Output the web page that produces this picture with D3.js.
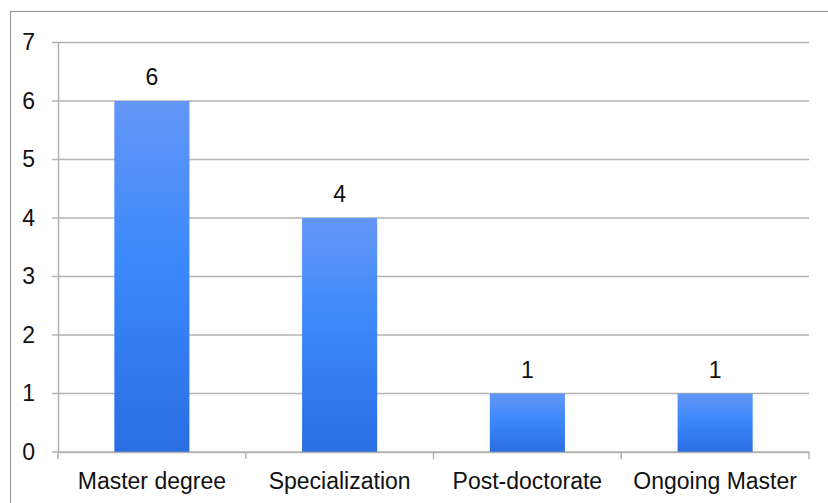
<!DOCTYPE html>
<html>
<head>
<meta charset="utf-8">
<script src="https://cdn.jsdelivr.net/npm/d3@7"></script>
<style>
  html, body { margin: 0; padding: 0; background: #fff; }
  svg { display: block; font-family: "Liberation Sans", Arial, Helvetica, sans-serif; }
</style>
</head>
<body>
<svg id="chart" width="828" height="503"></svg>
<script>
// Degrees held by the group
const categories = ["Master degree", "Specialization", "Post-doctorate", "Ongoing Master"];
const counts = [6, 4, 1, 1];
const yTicks = [0, 1, 2, 3, 4, 5, 6, 7];

const svg = d3.select("#chart");
const W = 828, H = 503;
const margin = { left: 58, right: 19, top: 42.5, bottom: 51 };
const FONT = 23;

// outer frame
svg.append("rect")
  .attr("x", 10.5).attr("y", 11.5)
  .attr("width", W).attr("height", H)
  .attr("fill", "none").attr("stroke", "#9a9a9a").attr("stroke-width", 1.2);

const x = d3.scaleBand()
  .domain(categories)
  .range([margin.left, W - margin.right])
  .paddingInner(0).paddingOuter(0);

const y = d3.scaleLinear()
  .domain([0, 7])
  .range([H - margin.bottom, margin.top]);

// bar gradient
const defs = svg.append("defs");
const grad = defs.append("linearGradient")
  .attr("id", "barFill").attr("x1", 0).attr("y1", 0).attr("x2", 0).attr("y2", 1);
grad.append("stop").attr("offset", "0%").attr("stop-color", "#6396f6");
grad.append("stop").attr("offset", "45%").attr("stop-color", "#3c89fb");
grad.append("stop").attr("offset", "100%").attr("stop-color", "#2a6ee2");

// horizontal gridlines
svg.append("g")
  .selectAll("line")
  .data(yTicks)
  .join("line")
  .attr("x1", margin.left - 6).attr("x2", W - margin.right)
  .attr("y1", d => y(d)).attr("y2", d => y(d))
  .attr("stroke", "#b3b3b3").attr("stroke-width", 1.5);

// y axis
const yAxis = svg.append("g")
  .attr("transform", `translate(${margin.left},0)`)
  .call(d3.axisLeft(y).tickValues(yTicks).tickSize(0).tickPadding(23).tickFormat(d3.format("d")));
yAxis.select(".domain").attr("stroke", "#b3b3b3").attr("stroke-width", 1.5);
yAxis.selectAll("text")
  .attr("font-size", FONT).attr("fill", "#111")
  .attr("font-family", "'Liberation Sans', Arial, sans-serif");

// bars
svg.append("g")
  .selectAll("rect")
  .data(categories)
  .join("rect")
  .attr("x", d => x(d) + x.bandwidth() * 0.3)
  .attr("width", x.bandwidth() * 0.4)
  .attr("y", (d, i) => y(counts[i]))
  .attr("height", (d, i) => y(0) - y(counts[i]))
  .attr("fill", "url(#barFill)");

// x axis
const xAxis = svg.append("g")
  .attr("transform", `translate(0,${y(0)})`)
  .call(d3.axisBottom(x).tickSize(0).tickPadding(21));
xAxis.select(".domain").attr("stroke", "#b3b3b3").attr("stroke-width", 1.5);
xAxis.selectAll("text")
  .attr("font-size", FONT).attr("fill", "#111")
  .attr("font-family", "'Liberation Sans', Arial, sans-serif");

// category separators
svg.append("g")
  .selectAll("line")
  .data(d3.range(categories.length + 1))
  .join("line")
  .attr("x1", i => margin.left + i * x.step())
  .attr("x2", i => margin.left + i * x.step())
  .attr("y1", y(0)).attr("y2", y(0) + 7)
  .attr("stroke", "#b3b3b3").attr("stroke-width", 1.5);

// value labels
svg.append("g")
  .selectAll("text")
  .data(categories)
  .join("text")
  .attr("x", d => x(d) + x.bandwidth() / 2)
  .attr("y", (d, i) => y(counts[i]) - 16)
  .attr("text-anchor", "middle")
  .attr("font-size", FONT).attr("fill", "#111")
  .text((d, i) => counts[i]);
</script>
</body>
</html>
